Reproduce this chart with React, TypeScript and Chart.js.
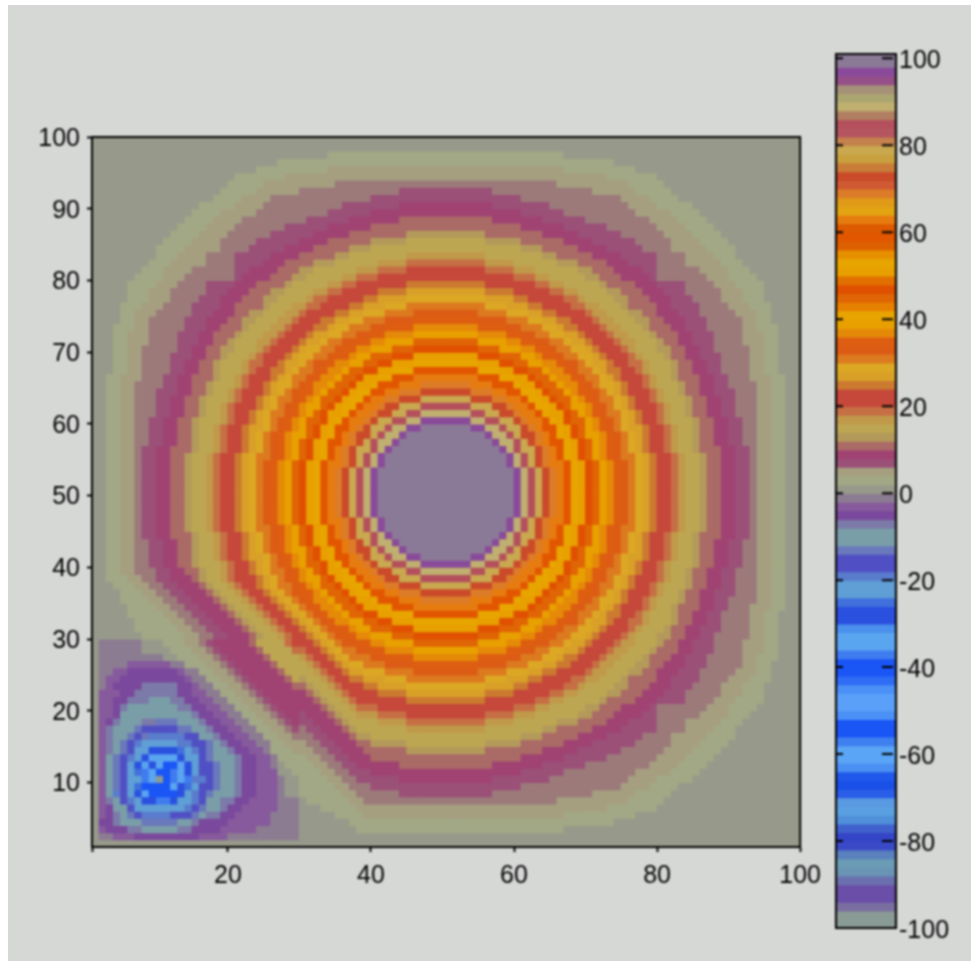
import React, { useEffect, useRef } from "react";
import { Chart, registerables } from "chart.js";

Chart.register(...registerables);

// Band letters. Every band covers 2 units; band k covers 2k..2k+2.
// ^ is the paler lower half of the 6-8 band, seen as a separate ring in the picture.
const POSITIVE_LETTERS = "abcdefghijklmnopqrstuvwxyzABCDEFGHIJKLMNOPQRSTUVWX";
const NEGATIVE_LETTERS = "ABCDEFGHIJKLMNOPQRSTUVWXYZ";
const DEEPEST_LETTER = "~";
const PALE_LETTER = "^";
const PALE_VALUE = 6.5;
const PALE_COLOR = "#9c7a7a";

const POSITIVE_COLORS = [
  "#979a8a", "#a2a885", "#a59f80", "#9b5078", "#a04373", "#aa6a66", "#b49a5a", "#bda652", "#c09a4a", "#c66f45",
  "#c5483a", "#c5483a", "#cb7a30", "#d9a028", "#dca824", "#dc7a1f", "#dc5c15", "#dd5e10", "#e58a08", "#e8a000",
  "#e8a400", "#e68000", "#e06505", "#e05000", "#e27000", "#e89f00", "#e8a500", "#e69000", "#dd6000", "#e25600",
  "#dd5a00", "#e67c10", "#e2a412", "#e09a18", "#dc7c28", "#cf5a33", "#ca4a2a", "#c97c38", "#c9a03e", "#c9a850",
  "#c4824d", "#b45560", "#b4505c", "#b07f62", "#c0b070", "#aba570", "#a59078", "#944f88", "#8a4a9a", "#8b7a97",
];
const NEGATIVE_COLORS = [
  "#8c7c92", "#865a9c", "#7a489c", "#7c7aa8", "#7a9ea8", "#7a9ea8", "#6a78bc", "#5050c4", "#5050c4", "#5a7ccc",
  "#5f9fd6", "#5f9fd6", "#3f70dc", "#2a50e0", "#2a50e0", "#4a90ec", "#5aa5f0", "#5aa5f0", "#3f7cf0", "#1a55f5",
  "#1a55f5", "#2f6cf5", "#4a90f6", "#5aa0f8", "#5aa0f8", "#4a90f5", "#1a55f5", "#1a55f5", "#3f80f0", "#5aa5f5",
  "#5aa5f5", "#4a8ff2", "#1f58ea", "#1a50e8", "#2a5ee8", "#5a9ae2", "#5aa0e0", "#5090da", "#4060cc", "#3545c8",
  "#3a4ac6", "#5a80be", "#6a9cb5", "#6a94b4", "#6a70ae", "#6a4ea8", "#6a4ea8", "#7a6ea0", "#8a9a94", "#8a9a94",
];

// Large ring: one run-length row per distance from the centre row.
const RING_CENTRE = 50;
const RING_ROWS = [
  "X1", "X2", "X3", "X4", "X5", "X6", "X7", "X7W1", "X6W1S2", "X4W2S2Q1N1",
  "W4S2Q2N2K1", "S4Q2N2K2I1F1", "Q4N3K2I1F2D1", "N4K3I2F2D1A2", "K4I3F2D2A2z1x1",
  "I4F3D3A1z2x1w2", "F5D3A2z2x1w2t1s1", "D5A3z2x2w2t1s2r1", "A5z3x2w2t2s2r1q2", "z5x3w3t2s1r2q1p2o1",
  "x5w3t3s2r2q1p2o2n1", "w5t4s2r2q2p2o1n2m1k1", "t5s4r2q2p2o2n2m1k3", "s5r4q2p3o2n1m2k3j1i1", "r5q4p3o2n2m2k3j1i2h1",
  "q5p4o3n2m2k4j1i2h3", "p6o3n3m2k4j2i2h3g1f1", "o6n4m2k5j2i1h4g2f2", "n6m4k5j2i2h4g2f3e1", "m6k7j2i2h5g1f4e3",
  "k10j3i2h5g2f3e4d1^1", "k6j4i3h6g2f3e4d2^2", "j6i4h6g3f4e3d4^3", "i6h8g2f5e4d5^4", "h11g3f5e4d5^4c3",
  "h6g5f6e4d6^5c4", "g6f8e5d6^6c4b2", "f11e6d6^7c4b4", "f7e7d6^9c4b4a2", "e11d6^10c5b4a4",
  "e7d8^11c4b5a6", "d11^14c4b4a9", "d7^14c6b5a11", "^16c10b5a13", "c23b7a15",
  "c17b10a19", "b24a23", "b17a31", "a49", "a50",
];

// Lower-left part of the ring, where the bands are squeezed: rows 12-20 from the
// centre, each starting on the diagonal and running out to the edge.
const SQUEEZED_FIRST = 12;
const SQUEEZED_LAST = 20;
const SQUEEZED_ROWS = [
  "D1A2z1x1w1t2s1r1q1p1o1n1m1k3j1i1h2g1f1e3d2^2c2b3a2",
  "A1z1x1w2t1s1r1q1p2o1n1m1k2j1i1h2g1f1e3d2^2c2b3a3",
  "x1w2t1s1r2q1p1o1n1m1k2j1i1h2g1f1e3d2^2c2b3a4",
  "w1t1s2r1q1p1o1n1m1k2j1i1h2g1f1e3d2^2c2b4a4",
  "s2r1q1p1o1n1m1k2j1i1h2g1f1e3d2^2c2b4a5",
  "r1q1p1o1n1m1k2j1i1h2g1f1e3d2^2c2b5a5",
  "p1o1n1m1k2j1i1h2g1f1e3d2^2c2b5a6",
  "n1m1k2j1i1h2g1f1e3d2^2c2b6a6",
  "k2j1i1h2g1f1e3d2^2c2b6a7",
];

// Lower-left block, columns 2-29, first row is row 29, last is row 2.
// Lower case = positive band, upper case = negative band, ~ = the -100 cell.
const BLOCK_FIRST_COLUMN = 2;
const BLOCK_TOP_ROW = 29;
const BLOCK_ROWS = [
  "A6a3b3c2^1d1e5f1h4j1k1",
  "A6a4b3c2^1d1e5f1h4j1",
  "A9a2b3c2^1d1e5f1h4",
  "A4B6A2b3c2^1d1e5f1h3",
  "A2B2C7B1A2b2c2^1d1e5f1h2",
  "A1B2C9B1A2b2c2^1d1e5f1h1",
  "A1B1C4D5C2B1A2b2c2^1d1e5f1",
  "B3C2D6C2B2A2b2c2^1d1e5",
  "B2C2D3E3D2C2B2A2b2c2^1d1e4",
  "B2C1D1E7D2C2B2A2b2c2^1d1e3",
  "B2C1E10D1C2B2A2b2c2^1d1e2",
  "B1C1D1E3D2G3E3D1C2B2A2b2c2^1d1e1",
  "B1D1E3G1I5G2E2D1C2B2A2b2c2^1d1",
  "B1D1E2G1I1G1J5I2E2D1C2B2A2b2c2^1",
  "B1D1E1G1I1J1K5J2I2G1E1D1C2B2A2b2c2",
  "B1D1E1G1I1K2N4M1K1J1I1G1E2D1C2B2A1b3c1",
  "B1E1G1I1J1K1N1Q4N1K2I1G1E3D1C2B2A1b3",
  "B1E1G1I1K1O1Q1O1Q1T2Q1O1K1I2G1E2D1C2B2A1a1b2",
  "B1E1G1I1K1M1S1Q1T2S1Q1O1K1I2G1E2D1C2B3a2b1",
  "B1E1G1I1K2S1Q1~1T1S1Q1S1J2I1G1E2D1C2B3A1a2",
  "B1E1G1I1K1M1T4Q1O1M1K1I2G1E2D1C2B3A1a2",
  "B1E1J1I1K1O1Q1T4N1K1J1I1G1E3D1C2B3A1a2",
  "B1D1E1I1J1K1N2S2N1K2J1I1E2D2C2B4A3",
  "B1C1E2I1K7J1I1G1E2D1C2B5A3",
  "B1C1D1E1G1I1J4I3G1E1D2C2B5A4",
  "C2D1E3G5E2D1C4B6A4",
  "B1C3D2E5D2C4B5A6",
  "A2B3C9B4A10",
];

const X_TICKS = [1, 20, 40, 60, 80, 100];
const Y_TICKS = [10, 20, 30, 40, 50, 60, 70, 80, 90, 100];
const BAR_TICKS = [100, 80, 60, 40, 20, 0, -20, -40, -60, -80, -100];

const expand = (row: string) => {
  const out: string[] = [];
  for (const m of row.matchAll(/([A-Za-z~^])(\d+)/g)) for (let i = 0; i < Number(m[2]); i++) out.push(m[1]);
  return out;
};

const ringRows = RING_ROWS.map(expand);
const squeezedRows = SQUEEZED_ROWS.map(expand);
const blockRows = BLOCK_ROWS.map(expand);

const positiveValue = (letter: string) =>
  letter === PALE_LETTER ? PALE_VALUE : 2 * POSITIVE_LETTERS.indexOf(letter) + 1;

const ringValue = (c: number, r: number) => {
  const dx = Math.abs(c - RING_CENTRE);
  const dy = Math.abs(r - RING_CENTRE);
  const low = Math.min(dx, dy);
  const high = Math.max(dx, dy);
  const squeezed = c < RING_CENTRE && r < RING_CENTRE && low >= SQUEEZED_FIRST && low <= SQUEEZED_LAST;
  return positiveValue(squeezed ? squeezedRows[low - SQUEEZED_FIRST][high - low] : ringRows[high][low]);
};

const blockValue = (letter: string) => {
  if (letter === DEEPEST_LETTER) return -99;
  const n = NEGATIVE_LETTERS.indexOf(letter);
  if (n >= 0) return -(2 * n + 1);
  return positiveValue(letter);
};

const cellValue = (c: number, r: number) => {
  const row = blockRows[BLOCK_TOP_ROW - r];
  const letter = row ? row[c - BLOCK_FIRST_COLUMN] : undefined;
  return letter ? blockValue(letter) : ringValue(c, r);
};

const colorFor = (v: number) => {
  if (v === PALE_VALUE) return PALE_COLOR;
  const k = Math.min(49, Math.floor(Math.abs(v) / 2));
  return v >= 0 ? POSITIVE_COLORS[k] : NEGATIVE_COLORS[k];
};

const FONT = { family: "'Liberation Sans', Arial, sans-serif", size: 25 };
const INK = "#000000";

const framePlugin = {
  id: "frame",
  afterDatasetsDraw(chart: any) {
    const { ctx, chartArea: a } = chart;
    ctx.save();
    ctx.strokeStyle = INK;
    ctx.lineWidth = 2;
    ctx.strokeRect(a.left, a.top, a.right - a.left, a.bottom - a.top);
    ctx.restore();
  },
};

const innerTicksPlugin = {
  id: "innerTicks",
  afterDatasetsDraw(chart: any) {
    const { ctx, chartArea: a, scales } = chart;
    ctx.save();
    ctx.strokeStyle = INK;
    ctx.lineWidth = 2;
    for (const t of BAR_TICKS) {
      const y = scales.y.getPixelForValue(t);
      ctx.beginPath();
      ctx.moveTo(a.left, y);
      ctx.lineTo(a.left + 7, y);
      ctx.moveTo(a.right - 14, y);
      ctx.lineTo(a.right - 3, y);
      ctx.stroke();
    }
    ctx.restore();
  },
};

export default function App() {
  const heatRef = useRef<HTMLCanvasElement>(null);
  const barRef = useRef<HTMLCanvasElement>(null);

  useEffect(() => {
    const points: { x: number; y: number; v: number }[] = [];
    for (let r = 1; r <= 99; r++) {
      for (let c = 1; c <= 99; c++) points.push({ x: c + 0.5, y: r + 0.5, v: cellValue(c, r) });
    }

    const heat = new Chart(heatRef.current!, {
      type: "scatter",
      data: {
        datasets: [
          {
            data: points,
            pointStyle: "rect",
            pointRadius: 5.8,
            pointHoverRadius: 5.8,
            borderWidth: 0,
            pointBorderWidth: 0,
            backgroundColor: (ctx: any) => colorFor(ctx.raw ? ctx.raw.v : 0),
          } as any,
        ],
      },
      options: {
        responsive: false,
        animation: false,
        events: [],
        layout: { padding: { left: 0, top: 132, right: 26, bottom: 0 } },
        plugins: { legend: { display: false }, tooltip: { enabled: false } },
        scales: {
          x: {
            type: "linear",
            min: 1,
            max: 100,
            afterBuildTicks: (s: any) => {
              s.ticks = X_TICKS.map((value) => ({ value }));
            },
            afterFit: (s: any) => {
              s.height = 45;
            },
            border: { color: INK, width: 2 },
            grid: { drawOnChartArea: false, color: INK, tickLength: 5, tickWidth: 2 },
            ticks: {
              color: INK,
              font: FONT,
              padding: 9,
              maxRotation: 0,
              autoSkip: false,
              callback: (v: any) => (v === 1 ? "" : String(v)),
            },
          },
          y: {
            type: "linear",
            min: 1,
            max: 100,
            afterBuildTicks: (s: any) => {
              s.ticks = Y_TICKS.map((value) => ({ value }));
            },
            afterFit: (s: any) => {
              s.width = 84;
            },
            border: { color: INK, width: 2 },
            grid: { drawOnChartArea: false, color: INK, tickLength: 5, tickWidth: 2 },
            ticks: { color: INK, font: FONT, padding: 7, labelOffset: 2, autoSkip: false },
          },
        },
      },
      plugins: [framePlugin],
    } as any);

    const bandCentres: number[] = [];
    const bandColors: string[] = [];
    for (let k = 49; k >= 0; k--) {
      bandCentres.push(-(2 * k + 1));
      bandColors.push(NEGATIVE_COLORS[k]);
    }
    for (let k = 0; k < 50; k++) {
      bandCentres.push(2 * k + 1);
      bandColors.push(POSITIVE_COLORS[k]);
    }
    bandCentres.push(100.5);
    bandColors.push(POSITIVE_COLORS[49]);

    const bar = new Chart(barRef.current!, {
      type: "bar",
      data: {
        datasets: [
          {
            data: bandCentres.map((y) => ({ x: [0, 1], y })),
            backgroundColor: bandColors,
            borderWidth: 0,
            barThickness: 9.6,
          } as any,
        ],
      },
      options: {
        indexAxis: "y",
        responsive: false,
        animation: false,
        events: [],
        layout: { padding: { left: 10, top: 49, right: 0, bottom: 22 } },
        plugins: { legend: { display: false }, tooltip: { enabled: false } },
        scales: {
          x: { type: "linear", min: 0, max: 1, display: false },
          y: {
            type: "linear",
            position: "right",
            offset: false,
            min: -100,
            max: 101,
            afterBuildTicks: (s: any) => {
              s.ticks = BAR_TICKS.map((value) => ({ value }));
            },
            afterFit: (s: any) => {
              s.width = 75;
            },
            border: { display: false },
            grid: { display: false, drawTicks: false },
            ticks: { color: INK, font: FONT, padding: 3, labelOffset: 3, autoSkip: false, crossAlign: "near" },
          },
        },
      },
      plugins: [framePlugin, innerTicksPlugin],
    } as any);

    return () => {
      heat.destroy();
      bar.destroy();
    };
  }, []);

  const blur = "blur(0.8px)";
  return (
    <div style={{ position: "absolute", left: 8, top: 5, width: 963, height: 956, background: "#d6d8d6", overflow: "hidden" }}>
      <canvas ref={heatRef} width={822} height={887} style={{ position: "absolute", left: 0, top: 0, filter: blur }} />
      <canvas ref={barRef} width={145} height={945} style={{ position: "absolute", left: 818, top: 0, filter: blur }} />
    </div>
  );
}
